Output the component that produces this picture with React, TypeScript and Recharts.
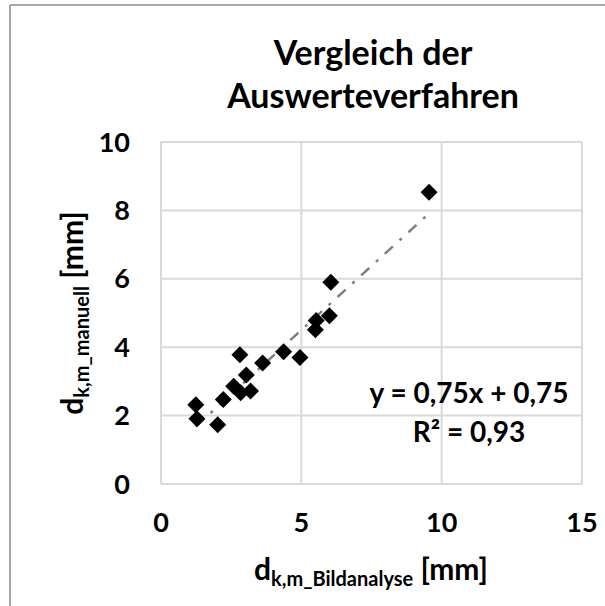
import {
  CartesianGrid,
  Label,
  ReferenceLine,
  Scatter,
  ScatterChart,
  XAxis,
  YAxis,
} from "recharts";

// Mittlerer Korndurchmesser, Bildanalyse vs. manuelle Auswertung [mm]
const bildanalyse = [
  1.24, 1.28, 2.02, 2.22, 2.59, 2.84, 3.19, 3.04, 2.81, 3.62, 4.37, 4.95, 5.5,
  5.53, 6.0, 6.05, 9.55,
];
const manuell = [
  2.32, 1.91, 1.73, 2.47, 2.86, 2.67, 2.72, 3.19, 3.78, 3.54, 3.87, 3.7, 4.51,
  4.78, 4.92, 5.9, 8.53,
];

const xTicks = [0, 5, 10, 15];
const yTicks = [0, 2, 4, 6, 8, 10];

// lineare Trendlinie
const slope = 0.75;
const intercept = 0.75;
const rSquared = 0.93;

const font = "Lato, 'Open Sans', sans-serif";
const fmt = (v: number) => v.toFixed(2).replace(".", ",");

const points = bildanalyse.map((x, i) => ({ x, y: manuell[i] }));
const xMin = Math.min(...bildanalyse);
const xMax = Math.max(...bildanalyse);

const Diamond = (props: any) => {
  const { cx, cy } = props;
  const r = 8.5;
  return (
    <polygon
      points={`${cx},${cy - r} ${cx + r},${cy} ${cx},${cy + r} ${cx - r},${cy}`}
      fill="#000"
    />
  );
};

const tickStyle = { fontSize: 27, fontWeight: 700, fill: "#000", fontFamily: font };

const XTitle = () => (
  <text x={371} y={580} textAnchor="middle" fontFamily={font} fontWeight={700} fontSize={30} fill="#000">
    <tspan>d</tspan>
    <tspan fontSize={20} dy={6}>k,m_Bildanalyse</tspan>
    <tspan dy={-6}> [mm]</tspan>
  </text>
);

const YTitle = () => (
  <text
    transform="translate(83,313) rotate(-90)"
    textAnchor="middle"
    fontFamily={font}
    fontWeight={700}
    fontSize={30}
    fill="#000"
  >
    <tspan>d</tspan>
    <tspan fontSize={20} dy={6}>k,m_manuell</tspan>
    <tspan dy={-6}> [mm]</tspan>
  </text>
);

const App = () => {
  return (
    <div
      style={{
        position: "absolute",
        left: 0,
        top: 0,
        width: 605,
        height: 606,
        background: "#fff",
        fontFamily: font,
      }}
    >
      <ScatterChart
        width={605}
        height={606}
        margin={{ top: 142, right: 23, left: 0, bottom: 0 }}
      >
        <CartesianGrid stroke="#d9d9d9" strokeWidth={2} />
        <XAxis
          type="number"
          dataKey="x"
          domain={[0, 15]}
          ticks={xTicks}
          height={122}
          axisLine={false}
          tickLine={false}
          tickMargin={23}
          tick={tickStyle}
        >
          <Label content={<XTitle />} />
        </XAxis>
        <YAxis
          type="number"
          dataKey="y"
          domain={[0, 10]}
          ticks={yTicks}
          width={161}
          axisLine={false}
          tickLine={false}
          tickMargin={25}
          tick={tickStyle}
        >
          <Label content={<YTitle />} />
        </YAxis>
        <Scatter data={points} shape={<Diamond />} isAnimationActive={false} />
        <ReferenceLine
          segment={[
            { x: xMin, y: slope * xMin + intercept },
            { x: xMax, y: slope * xMax + intercept },
          ]}
          stroke="#808080"
          strokeWidth={2.5}
          strokeDasharray="11 9 3 9"
          ifOverflow="visible"
        />
      </ScatterChart>
      <svg
        width={605}
        height={606}
        style={{ position: "absolute", left: 0, top: 0, pointerEvents: "none" }}
      >
        <line x1={10} y1={5} x2={605} y2={5} stroke="#8c8c8c" strokeWidth={1.5} />
        <line x1={10} y1={5} x2={10} y2={606} stroke="#8c8c8c" strokeWidth={1.5} />
        <g fontFamily={font} fontWeight={700} fill="#000" textAnchor="middle">
          <text x={373} y={65} fontSize={34}>Vergleich der</text>
          <text x={373} y={108} fontSize={34}>Auswerteverfahren</text>
          <text x={469} y={403} fontSize={28}>
            {`y = ${fmt(slope)}x + ${fmt(intercept)}`}
          </text>
          <text x={469} y={442} fontSize={28}>
            {`R² = ${fmt(rSquared)}`}
          </text>
        </g>
      </svg>
    </div>
  );
};

export default App;
